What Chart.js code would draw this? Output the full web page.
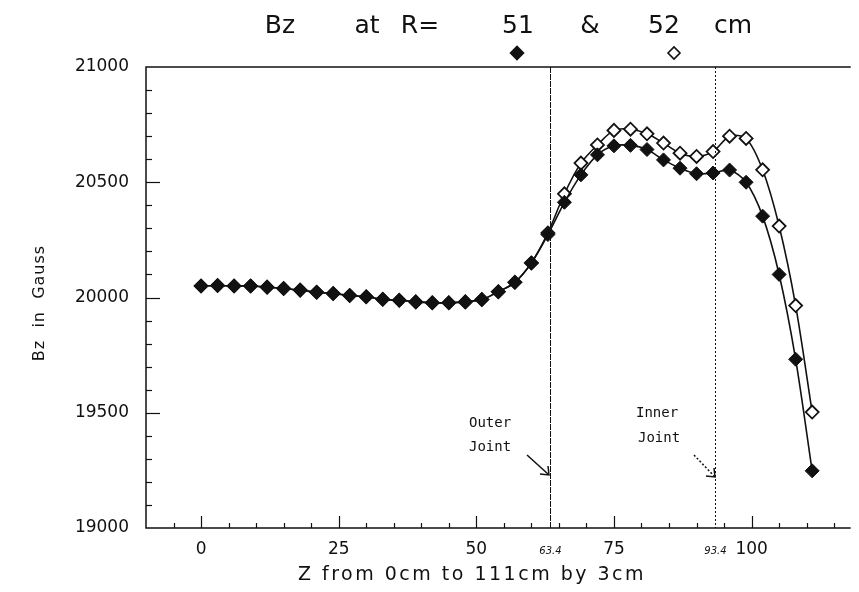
<!DOCTYPE html>
<html>
<head>
<meta charset="utf-8">
<script src="https://cdn.jsdelivr.net/npm/chart.js@4/dist/chart.umd.min.js"></script>
<style>
html,body{margin:0;padding:0;background:#fff;}
#wrap{width:859px;height:592px;}
</style>
</head>
<body>
<div id="wrap"><canvas id="myChart" width="859" height="592"></canvas></div>
<script>
// Z positions (cm), 0..111 by 3
var zPos = [0,3,6,9,12,15,18,21,24,27,30,33,36,39,42,45,48,51,54,57,60,63,66,69,72,75,78,81,84,87,90,93,96,99,102,105,108,111];
// Bz at R = 51 cm (filled diamonds)
var bz51 = [20050,20052,20050,20050,20045,20039,20032,20023,20017,20009,20003,19992,19988,19981,19977,19977,19981,19991,20025,20066,20150,20273,20413,20532,20619,20658,20660,20642,20597,20561,20537,20540,20553,20500,20353,20100,19732,19248];
// Bz at R = 52 cm (open diamonds)
var bz52 = [20050,20052,20050,20050,20045,20039,20032,20023,20017,20009,20003,19992,19988,19981,19977,19977,19981,19991,20025,20066,20150,20280,20450,20583,20662,20725,20730,20710,20670,20626,20612,20633,20700,20690,20554,20310,19965,19503];
var xTickLabels = [0,25,50,75,100];
var yTickLabels = [19000,19500,20000,20500,21000];
var joints = [63.4, 93.4];
var jointText = ["63.4", "93.4"];

function pts(vals){
    return zPos.map(function(z, i){ return {x: z, y: vals[i]}; });
}

var decor = {
    id: 'decor',
    afterDraw: function(chart){
        var ctx = chart.ctx, a = chart.chartArea;
        var xs = chart.scales.x, ys = chart.scales.y;
        ctx.save();
        ctx.strokeStyle = '#111';
        ctx.fillStyle = '#111';
        ctx.lineWidth = 1.5;

        // frame
        ctx.beginPath();
        ctx.moveTo(a.right, a.bottom);
        ctx.lineTo(a.left, a.bottom);
        ctx.lineTo(a.left, a.top);
        ctx.lineTo(a.right, a.top);
        ctx.stroke();

        // x ticks (inward)
        ctx.lineWidth = 1.2;
        for (var v = -5; v <= 115; v += 5) {
            var px = Math.round(xs.getPixelForValue(v)) + 0.5;
            var len = (v % 25 === 0) ? 12 : 5;
            ctx.beginPath(); ctx.moveTo(px, a.bottom); ctx.lineTo(px, a.bottom - len); ctx.stroke();
        }
        // y ticks (inward)
        for (var w = 19100; w < 21000; w += 100) {
            var py = Math.round(ys.getPixelForValue(w)) + 0.5;
            var l2 = (w % 500 === 0) ? 14 : 6;
            ctx.beginPath(); ctx.moveTo(a.left, py); ctx.lineTo(a.left + l2, py); ctx.stroke();
        }

        // joint lines
        ctx.lineWidth = 1;
        joints.forEach(function(j, i){
            var jx = Math.round(xs.getPixelForValue(j)) + 0.5;
            ctx.setLineDash(i === 0 ? [6, 1] : [2, 2]);
            ctx.beginPath(); ctx.moveTo(jx, a.top); ctx.lineTo(jx, a.bottom); ctx.stroke();
            ctx.setLineDash([]);
            ctx.font = 'italic 10px "DejaVu Sans"';
            ctx.textAlign = 'center';
            ctx.textBaseline = 'middle';
            ctx.fillText(jointText[i], jx, a.bottom + 23);
        });

        // hand written notes
        ctx.font = '14px "DejaVu Sans Mono"';
        ctx.textAlign = 'left';
        ctx.fillText('Outer', 469, 423);
        ctx.fillText('Joint', 469, 447);
        ctx.fillText('Inner', 636, 413);
        ctx.fillText('Joint', 638, 438);
        // arrows
        ctx.lineWidth = 1.5;
        ctx.beginPath(); ctx.moveTo(527, 455); ctx.lineTo(548, 474); ctx.stroke();
        ctx.beginPath(); ctx.moveTo(540, 474); ctx.lineTo(549, 475); ctx.lineTo(548, 466); ctx.stroke();
        ctx.setLineDash([2, 2]);
        ctx.beginPath(); ctx.moveTo(694, 455); ctx.lineTo(714, 476); ctx.stroke();
        ctx.setLineDash([]);
        ctx.beginPath(); ctx.moveTo(706, 476); ctx.lineTo(715, 477); ctx.lineTo(714, 468); ctx.stroke();

        // title
        ctx.font = '25px "DejaVu Sans"';
        ctx.textAlign = 'center';
        ctx.textBaseline = 'alphabetic';
        ctx.lineWidth = 1;
        [['Bz', 280], ['at', 367], ['R=', 420], ['51', 518], ['&', 590], ['52', 664], ['cm', 733]].forEach(function(t){
            ctx.fillText(t[0], t[1], 33);
        });
        // legend markers
        function diamond(x, y, r, filled){
            ctx.beginPath();
            ctx.moveTo(x - r, y); ctx.lineTo(x, y - r); ctx.lineTo(x + r, y); ctx.lineTo(x, y + r); ctx.closePath();
            if (filled) { ctx.fill(); } else { ctx.fillStyle = '#fff'; ctx.fill(); ctx.fillStyle = '#111'; }
            ctx.lineWidth = 1.6; ctx.stroke();
        }
        diamond(517, 53, 6.5, true);
        diamond(674, 53, 6, false);

        // axis titles
        ctx.font = '19px "DejaVu Sans"';
        ctx.letterSpacing = '2.5px';
        ctx.textAlign = 'center';
        ctx.textBaseline = 'middle';
        ctx.fillText('Z from 0cm to 111cm by 3cm', 472, 575);
        ctx.save();
        ctx.translate(40, 303);
        ctx.rotate(-Math.PI / 2);
        ctx.font = '16px "DejaVu Sans"';
        ctx.letterSpacing = '1px';
        ctx.fillText('Bz  in  Gauss', 0, 0);
        ctx.restore();
        ctx.restore();
    }
};

var ctx = document.getElementById("myChart");
var chart = new Chart(ctx, {
    type: 'line',
    data: {
        datasets: [{
            label: 'R = 51 cm',
            data: pts(bz51),
            borderColor: '#111',
            borderWidth: 1.6,
            backgroundColor: '#111',
            pointStyle: 'rectRot',
            pointRadius: 7,
            pointBorderWidth: 1,
            pointBackgroundColor: '#111',
            tension: 0.3,
            order: 1
        }, {
            label: 'R = 52 cm',
            data: pts(bz52),
            borderColor: '#111',
            borderWidth: 1.6,
            backgroundColor: '#fff',
            pointStyle: 'rectRot',
            pointRadius: 6.5,
            pointBorderWidth: 1.8,
            pointBackgroundColor: '#fff',
            tension: 0.3,
            order: 2
        }]
    },
    options: {
        responsive: false,
        animation: false,
        layout: { padding: { top: 67, right: 2, left: 0, bottom: 0 } },
        plugins: {
            legend: { display: false },
            tooltip: { enabled: false }
        },
        scales: {
            x: {
                type: 'linear',
                min: -10,
                max: 118,
                grid: { display: false, drawTicks: false },
                border: { display: false },
                afterBuildTicks: function(s){ s.ticks = xTickLabels.map(function(v){ return {value: v}; }); },
                afterFit: function(s){ s.height = 592 - 528; },
                ticks: {
                    color: '#111',
                    padding: 11,
                    maxRotation: 0,
                    autoSkip: false,
                    font: { family: 'DejaVu Sans', size: 17 }
                }
            },
            y: {
                min: 19000,
                max: 21000,
                grid: { display: false, drawTicks: false },
                border: { display: false },
                afterBuildTicks: function(s){ s.ticks = yTickLabels.map(function(v){ return {value: v}; }); },
                afterFit: function(s){ s.width = 146; },
                ticks: {
                    color: '#111',
                    padding: 17,
                    callback: function(v){ return String(v); },
                    font: { family: 'DejaVu Sans', size: 17 }
                }
            }
        }
    },
    plugins: [decor]
});
</script>
</body>
</html>
